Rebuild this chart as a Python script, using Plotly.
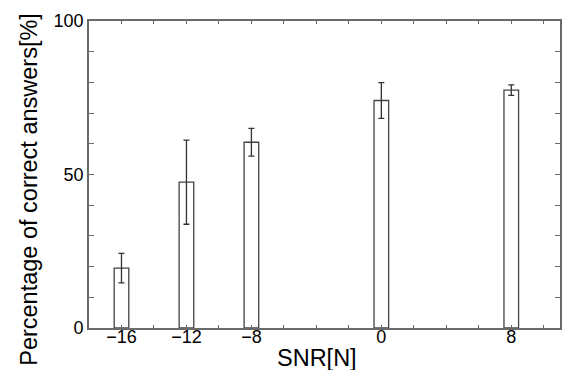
import plotly.graph_objects as go

snr = [-16, -12, -8, 0, 8]
tick_labels = ["\u221216", "\u221212", "\u22128", "0", "8"]
pct = [19.5, 47.5, 60.5, 74.1, 77.5]
err = [4.8, 13.7, 4.5, 5.8, 1.7]
y_ticks = [0, 50, 100]
x_title = "SNR[N]"
y_title = "Percentage of correct answers[%]"

line_col = "#6a6a6a"
font_fam = "Liberation Sans, Arial, Helvetica, sans-serif"
x_range = [-18, 11]
y_range = [0, 100]

fig = go.Figure()
fig.add_trace(go.Bar(
    x=snr, y=pct, width=0.9,
    marker=dict(color="white", line=dict(color="#444444", width=1.3)),
    error_y=dict(type="data", array=err, visible=True, color="#333333", thickness=1.3, width=3),
    showlegend=False,
))
# empty trace so the mirrored top/right tick axes get drawn
fig.add_trace(go.Scatter(
    x=[None], y=[None], xaxis="x2", yaxis="y2",
    mode="markers", hoverinfo="skip", showlegend=False,
))

xtick_style = dict(ticks="inside", ticklen=3, tickwidth=1.3, tickcolor=line_col)
ytick_style = dict(ticks="inside", ticklen=5, tickwidth=1.3, tickcolor=line_col)

fig.update_layout(
    width=566, height=370,
    margin=dict(l=89, r=6, t=21, b=42),
    paper_bgcolor="white", plot_bgcolor="white",
    font=dict(family=font_fam, color="black", size=18),
    xaxis=dict(
        range=x_range, tickvals=snr, ticktext=tick_labels,
        minor=dict(dtick=2, tick0=0, **xtick_style),
        showline=True, linecolor=line_col, linewidth=1.6, mirror=True,
        showgrid=False, zeroline=False,
        tickfont=dict(size=18), ticklabelstandoff=-8,
        automargin=False, fixedrange=True,
        **xtick_style,
    ),
    xaxis2=dict(
        range=x_range, overlaying="x", side="top", anchor="y2",
        tickvals=snr, showticklabels=False,
        minor=dict(dtick=2, tick0=0, **xtick_style),
        showline=False, showgrid=False, zeroline=False,
        automargin=False, fixedrange=True,
        **xtick_style,
    ),
    yaxis=dict(
        range=y_range, tickvals=y_ticks,
        minor=dict(dtick=10, tick0=0, **ytick_style),
        showline=True, linecolor=line_col, linewidth=1.6, mirror=True,
        showgrid=False, zeroline=False,
        tickfont=dict(size=18),
        automargin=False, fixedrange=True,
        **ytick_style,
    ),
    yaxis2=dict(
        range=y_range, overlaying="y", side="right", anchor="x2",
        tickvals=y_ticks, showticklabels=False,
        minor=dict(dtick=10, tick0=0, **ytick_style),
        showline=False, showgrid=False, zeroline=False,
        automargin=False, fixedrange=True,
        **ytick_style,
    ),
    annotations=[
        dict(text=x_title, xref="paper", yref="paper", x=0.4851, y=-0.0993,
             xanchor="center", yanchor="middle", showarrow=False,
             font=dict(size=23.5, color="black")),
        dict(text=y_title, xref="paper", yref="paper", x=-0.1278, y=0.4528,
             xanchor="center", yanchor="middle", textangle=-90, showarrow=False,
             font=dict(size=23.5, color="black")),
    ],
)

fig.write_html(
    "out.html",
    config={"displayModeBar": False},
    post_script="document.body.style.margin='0px';",
)
